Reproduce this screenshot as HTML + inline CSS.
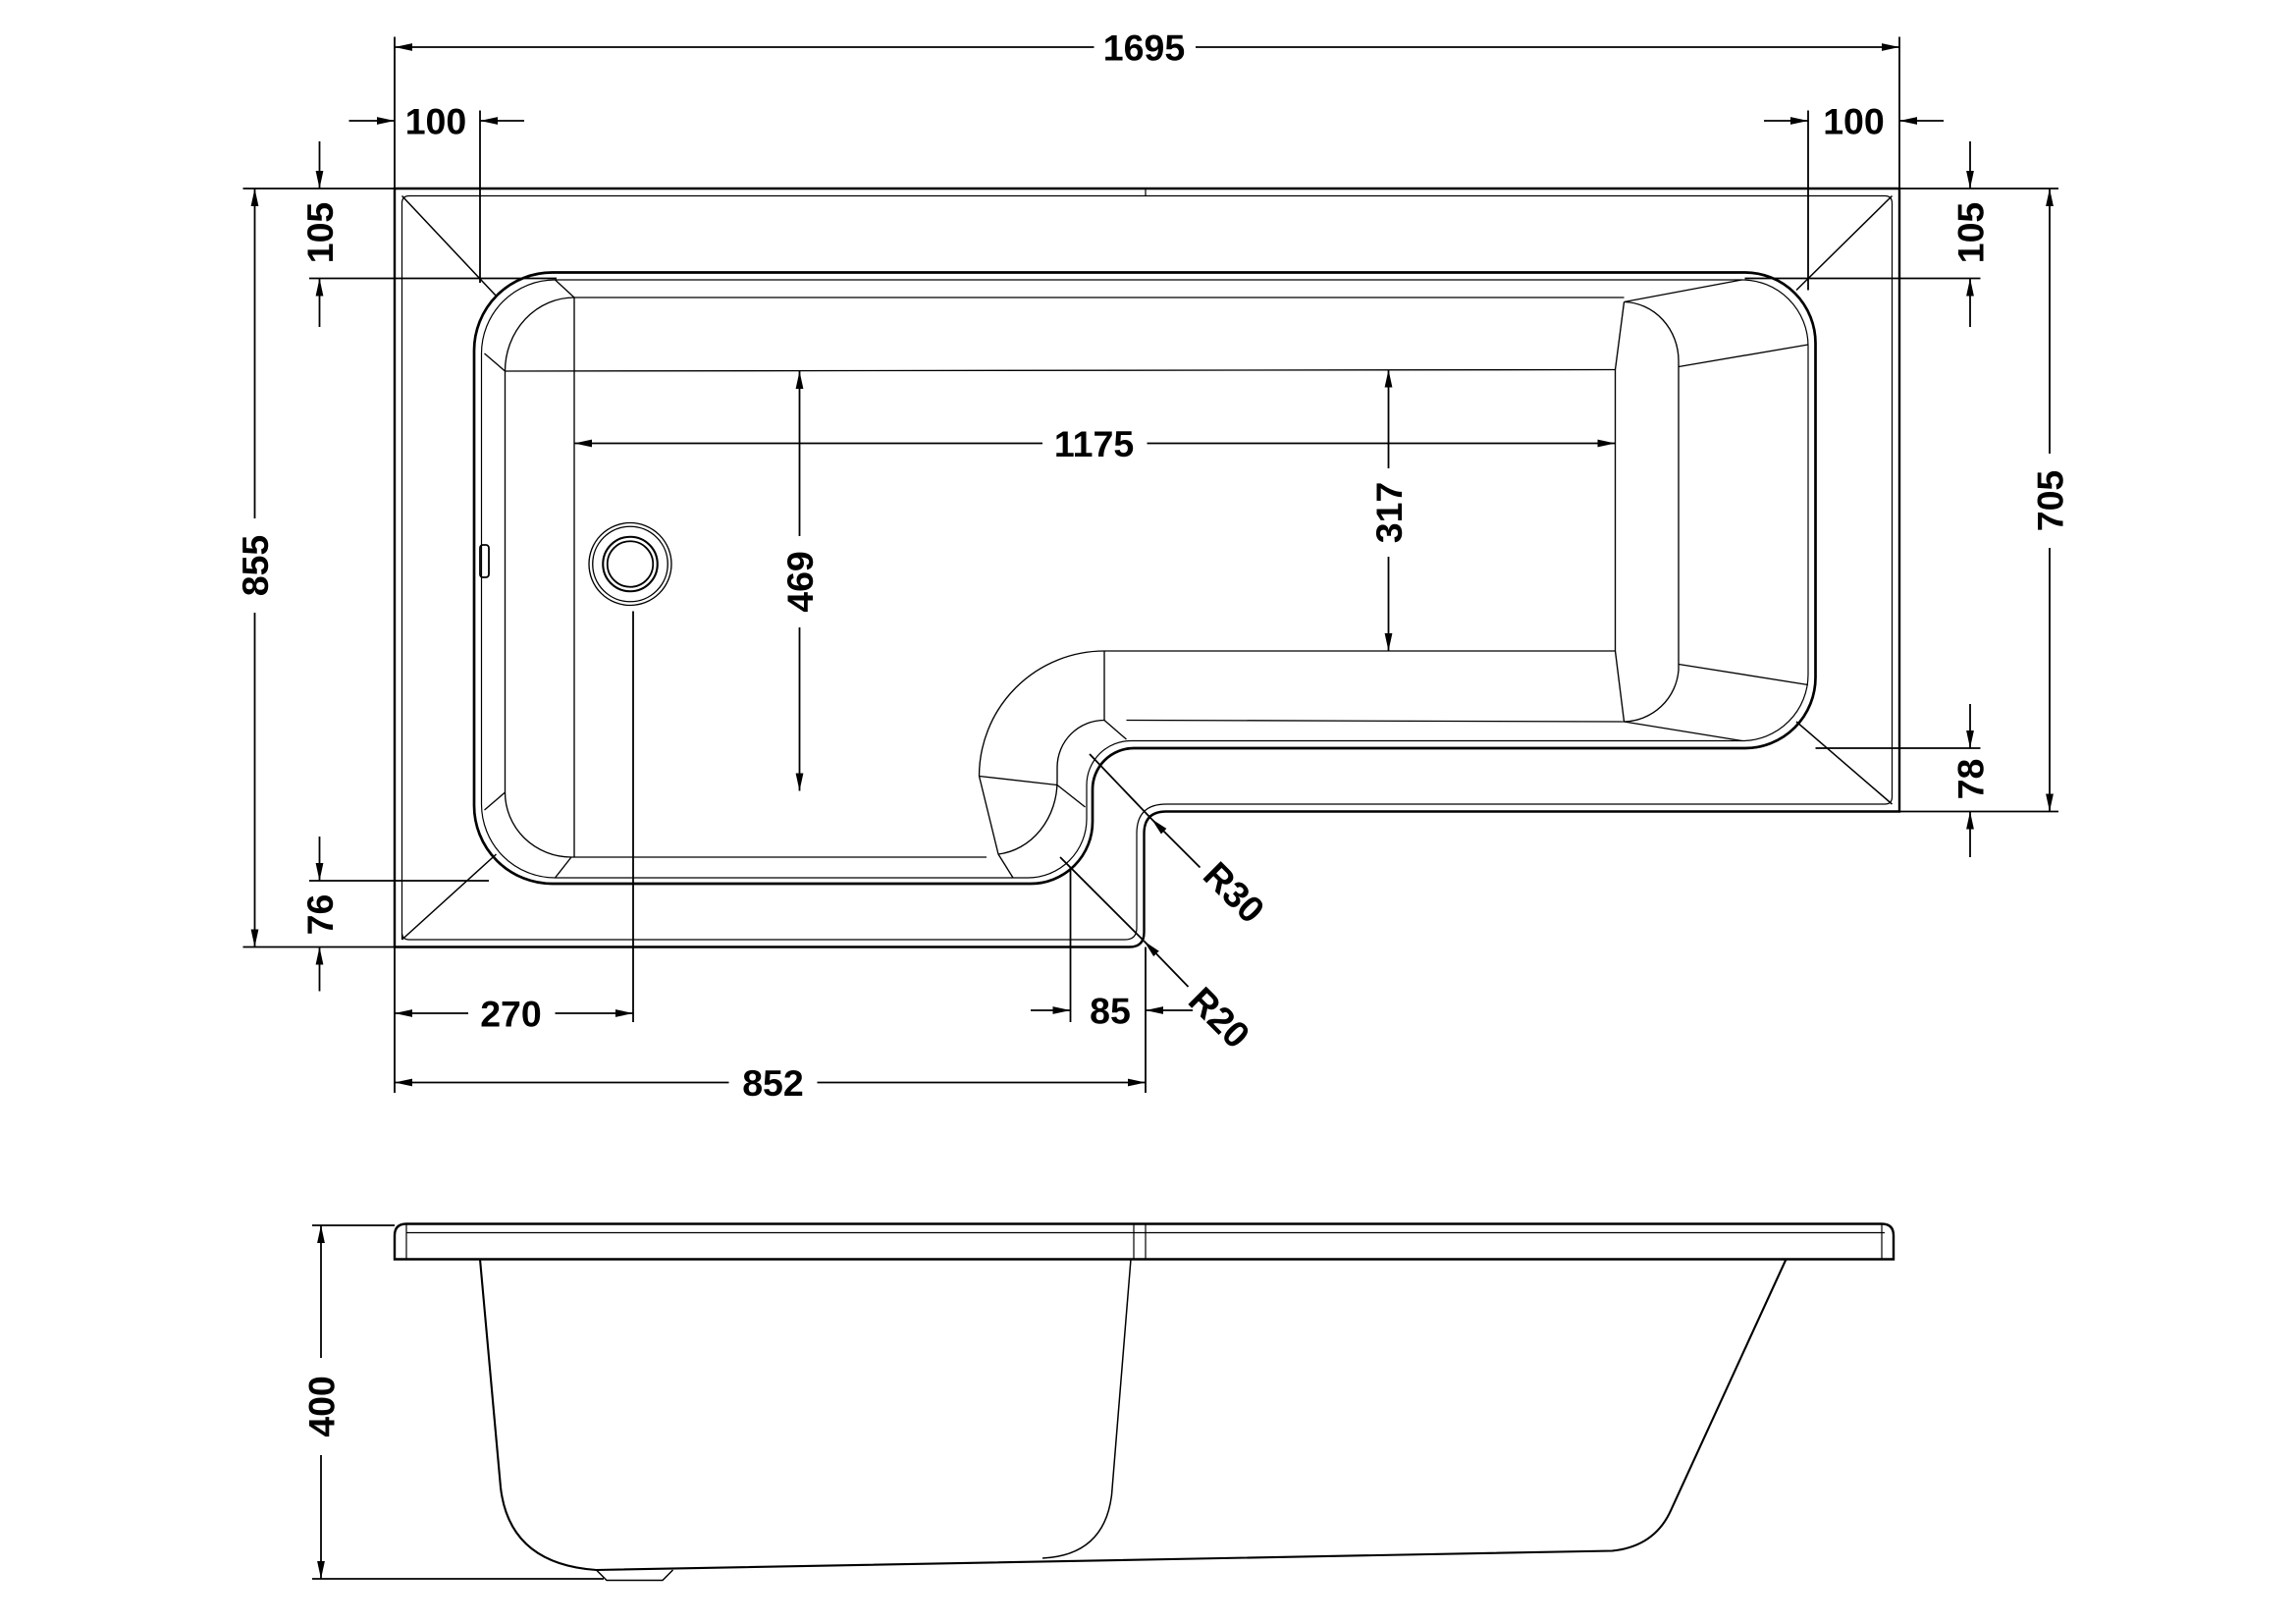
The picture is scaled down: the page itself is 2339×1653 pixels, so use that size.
<!DOCTYPE html>
<html><head><meta charset="utf-8"><style>
html,body{margin:0;padding:0;background:#fff;}
svg{display:block;}
text{font-family:"Liberation Sans",sans-serif;font-weight:bold;font-size:25px;fill:#000;text-anchor:middle;}
</style></head><body>
<svg width="2339" height="1653" viewBox="0 0 1559.33 1102" xmlns="http://www.w3.org/2000/svg">
<defs>
<marker id="a" markerUnits="userSpaceOnUse" markerWidth="14" markerHeight="8" refX="12" refY="0" viewBox="0 -4 14 8" orient="auto-start-reverse">
<path d="M0,-2.6 L12,0 L0,2.6 z" fill="#000"/>
</marker>
</defs>
<g fill="none" stroke="#000" stroke-width="1">
<!-- outer deck -->
<path d="M268,643 V128 H1290 V551 H792 Q777,551 777,566 V633 Q777,643 767,643 Z" stroke-width="1.6"/>
<path d="M273,638 V138 Q273,133 278,133 H1280 Q1285,133 1285,138 V541 Q1285,546 1280,546 H792 Q772,546 772,566 V630 Q772,638 764,638 H278 Q273,638 273,633" stroke-width="0.8"/>
<line x1="778" y1="128" x2="778" y2="133" stroke-width="0.8"/>
<!-- diagonals -->
<line x1="273" y1="133" x2="337" y2="201"/>
<line x1="1285" y1="133" x2="1220" y2="197"/>
<line x1="273" y1="638" x2="337" y2="580"/>
<line x1="1285" y1="546" x2="1220" y2="490"/>
<!-- basin outline -->
<path d="M375,185 H1185 A48,48 0 0 1 1233,233 V460 A48,48 0 0 1 1185,508 H770 A28,28 0 0 0 742,536 V558 A42,42 0 0 1 700,600 H375 A53,53 0 0 1 322,547 V238 A53,53 0 0 1 375,185 Z" stroke-width="1.8"/>
<path d="M377,190 H1183 A45,45 0 0 1 1228,235 V458 A45,45 0 0 1 1183,503 H768 A30,30 0 0 0 738,533 V556 A40,40 0 0 1 698,596 H377 A50,50 0 0 1 327,546 V240 A50,50 0 0 1 377,190 Z" stroke-width="0.8"/>
<!-- left inner -->
<line x1="390" y1="202" x2="1103" y2="202" stroke-width="0.9"/>
<line x1="343" y1="252" x2="1097" y2="251" stroke-width="0.9"/>
<line x1="390" y1="202" x2="390" y2="582" stroke-width="0.9"/>
<line x1="343" y1="252" x2="343" y2="538" stroke-width="0.9"/>
<path d="M343,252 A47,50 0 0 1 390,202" stroke-width="0.9"/>
<line x1="329" y1="240" x2="343" y2="252" stroke-width="0.9"/>
<line x1="377" y1="190" x2="390" y2="202" stroke-width="0.9"/>
<path d="M343,538 A45,44 0 0 0 388,582" stroke-width="0.9"/>
<line x1="388" y1="582" x2="670" y2="582" stroke-width="0.9"/>
<line x1="388" y1="582" x2="377" y2="596" stroke-width="0.9"/>
<line x1="329" y1="550" x2="343" y2="538" stroke-width="0.9"/>
<!-- right inner -->
<line x1="1097" y1="251" x2="1097" y2="442" stroke-width="0.9"/>
<line x1="1103" y1="205" x2="1097" y2="251" stroke-width="0.9"/>
<line x1="1097" y1="442" x2="1103" y2="490" stroke-width="0.9"/>
<path d="M1103,205 A38,40 0 0 1 1140,245 V455 A38,38 0 0 1 1103,490" stroke-width="0.9"/>
<line x1="1103" y1="205" x2="1183" y2="190" stroke-width="0.9"/>
<line x1="1140" y1="249" x2="1228" y2="234" stroke-width="0.9"/>
<line x1="1140" y1="451" x2="1228" y2="465" stroke-width="0.9"/>
<line x1="1103" y1="490" x2="1183" y2="503" stroke-width="0.9"/>
<!-- step -->
<line x1="750" y1="442" x2="1097" y2="442" stroke-width="0.9"/>
<line x1="765" y1="489" x2="1103" y2="490" stroke-width="0.9"/>
<line x1="750" y1="442" x2="750" y2="489" stroke-width="0.9"/>
<path d="M750,442 A85,85 0 0 0 665,527" stroke-width="0.9"/>
<path d="M750,489 A32,32 0 0 0 718,521 V530 A45,50 0 0 1 678,580" stroke-width="0.9"/>
<line x1="665" y1="527" x2="718" y2="533" stroke-width="0.9"/>
<line x1="665" y1="527" x2="678" y2="580" stroke-width="0.9"/>
<line x1="750" y1="489" x2="765" y2="502" stroke-width="0.9"/>
<line x1="718" y1="533" x2="737" y2="548" stroke-width="0.9"/>
<line x1="678" y1="580" x2="688" y2="596" stroke-width="0.9"/>
<!-- drain & overflow -->
<circle cx="428" cy="383" r="28" stroke-width="0.9"/>
<circle cx="428" cy="383" r="25.5" stroke-width="0.9"/>
<circle cx="428" cy="383" r="18.5" stroke-width="1.4"/>
<circle cx="428" cy="383" r="15.5" stroke-width="1.2"/>
<rect x="326" y="370" width="6" height="22" rx="2" stroke-width="1.2"/>

<!-- ===== dimensions ===== -->
<g stroke-width="1.2">
<!-- 1695 -->
<line x1="268" y1="25" x2="268" y2="128"/><line x1="1290" y1="25" x2="1290" y2="128"/>
<line x1="268" y1="32" x2="743" y2="32" marker-start="url(#a)"/>
<line x1="812" y1="32" x2="1290" y2="32" marker-end="url(#a)"/>
<!-- 100 left -->
<line x1="326" y1="75" x2="326" y2="192"/>
<line x1="237" y1="82" x2="268" y2="82" marker-end="url(#a)"/>
<line x1="356" y1="82" x2="326" y2="82" marker-end="url(#a)"/>
<!-- 100 right -->
<line x1="1228" y1="75" x2="1228" y2="197"/>
<line x1="1198" y1="82" x2="1228" y2="82" marker-end="url(#a)"/>
<line x1="1320" y1="82" x2="1290" y2="82" marker-end="url(#a)"/>
<!-- 105 left -->
<line x1="165" y1="128" x2="268" y2="128"/>
<line x1="210" y1="189" x2="378" y2="189"/>
<line x1="217" y1="96" x2="217" y2="128" marker-end="url(#a)"/>
<line x1="217" y1="222" x2="217" y2="189" marker-end="url(#a)"/>
<!-- 105 right -->
<line x1="1290" y1="128" x2="1398" y2="128"/>
<line x1="1185" y1="189" x2="1345" y2="189"/>
<line x1="1338" y1="96" x2="1338" y2="128" marker-end="url(#a)"/>
<line x1="1338" y1="222" x2="1338" y2="189" marker-end="url(#a)"/>
<!-- 855 -->
<line x1="165" y1="643" x2="268" y2="643"/>
<line x1="173" y1="128" x2="173" y2="352" marker-start="url(#a)"/>
<line x1="173" y1="416" x2="173" y2="643" marker-end="url(#a)"/>
<!-- 705 -->
<line x1="1290" y1="551" x2="1398" y2="551"/>
<line x1="1392" y1="128" x2="1392" y2="308" marker-start="url(#a)"/>
<line x1="1392" y1="372" x2="1392" y2="551" marker-end="url(#a)"/>
<!-- 78 -->
<line x1="1233" y1="508" x2="1345" y2="508"/>
<line x1="1338" y1="478" x2="1338" y2="508" marker-end="url(#a)"/>
<line x1="1338" y1="582" x2="1338" y2="551" marker-end="url(#a)"/>
<!-- 76 -->
<line x1="210" y1="598" x2="332" y2="598"/>
<line x1="217" y1="568" x2="217" y2="598" marker-end="url(#a)"/>
<line x1="217" y1="673" x2="217" y2="643" marker-end="url(#a)"/>
<!-- 1175 -->
<line x1="390" y1="301" x2="708" y2="301" marker-start="url(#a)"/>
<line x1="779" y1="301" x2="1097" y2="301" marker-end="url(#a)"/>
<!-- 469 -->
<line x1="543" y1="252" x2="543" y2="364" marker-start="url(#a)"/>
<line x1="543" y1="426" x2="543" y2="537" marker-end="url(#a)"/>
<!-- 317 -->
<line x1="943" y1="251" x2="943" y2="318" marker-start="url(#a)"/>
<line x1="943" y1="378" x2="943" y2="442" marker-end="url(#a)"/>
<!-- 270 -->
<line x1="430" y1="415" x2="430" y2="694"/>
<line x1="268" y1="643" x2="268" y2="742"/>
<line x1="268" y1="688" x2="318" y2="688" marker-start="url(#a)"/>
<line x1="377" y1="688" x2="430" y2="688" marker-end="url(#a)"/>
<!-- 852 -->
<line x1="778" y1="643" x2="778" y2="742"/>
<line x1="268" y1="735" x2="495" y2="735" marker-start="url(#a)"/>
<line x1="555" y1="735" x2="778" y2="735" marker-end="url(#a)"/>
<!-- 85 -->
<line x1="727" y1="590" x2="727" y2="694"/>
<line x1="700" y1="686" x2="727" y2="686" marker-end="url(#a)"/>
<line x1="810" y1="686" x2="778" y2="686" marker-end="url(#a)"/>
<!-- R30 -->
<line x1="740" y1="512" x2="782" y2="556"/>
<line x1="815" y1="589" x2="782" y2="556" marker-end="url(#a)"/>
<!-- R20 -->
<line x1="720" y1="582" x2="777" y2="639"/>
<line x1="807" y1="670" x2="777" y2="639" marker-end="url(#a)"/>
<!-- 400 -->
<line x1="212" y1="832" x2="268" y2="832"/>
<line x1="212" y1="1072" x2="410" y2="1072"/>
<line x1="218" y1="832" x2="218" y2="922" marker-start="url(#a)"/>
<line x1="218" y1="988" x2="218" y2="1072" marker-end="url(#a)"/>
</g>

<!-- ===== elevation ===== -->
<path d="M268,855 V839 Q268,831 276,831 H1278 Q1286,831 1286,839 V855 Z" stroke-width="1.6"/>
<line x1="276" y1="837" x2="1280" y2="837" stroke-width="0.9"/>
<line x1="276" y1="831" x2="276" y2="855" stroke-width="0.8"/>
<line x1="1278" y1="831" x2="1278" y2="855" stroke-width="0.8"/>
<line x1="770" y1="831" x2="770" y2="855" stroke-width="0.8"/>
<line x1="778" y1="831" x2="778" y2="855" stroke-width="0.8"/>
<path d="M326,855 L340,1010 Q346,1062 405,1066 L1095,1053 Q1124,1050 1135,1025 L1213,855" stroke-width="1.4"/>
<path d="M768,855 L755,1015 Q750,1056 708,1058" stroke-width="1"/>
<path d="M405,1066 L412,1073 H450 L457,1066" stroke-width="1"/>
</g>

<g>
<text x="777" y="41">1695</text>
<text x="296" y="91">100</text>
<text x="1259" y="91">100</text>
<text x="743" y="310">1175</text>
<text x="347" y="697">270</text>
<text x="525" y="744">852</text>
<text x="754" y="695">85</text>
<text transform="translate(226,158) rotate(-90)">105</text>
<text transform="translate(1347,158) rotate(-90)">105</text>
<text transform="translate(182,384) rotate(-90)">855</text>
<text transform="translate(1401,340) rotate(-90)">705</text>
<text transform="translate(1347,529) rotate(-90)">78</text>
<text transform="translate(226,621) rotate(-90)">76</text>
<text transform="translate(552,395) rotate(-90)">469</text>
<text transform="translate(952,348) rotate(-90)">317</text>
<text transform="translate(227,955) rotate(-90)">400</text>
<text transform="translate(832,612) rotate(45)">R30</text>
<text transform="translate(822,697) rotate(45)">R20</text>
</g>
</svg>
</body></html>
